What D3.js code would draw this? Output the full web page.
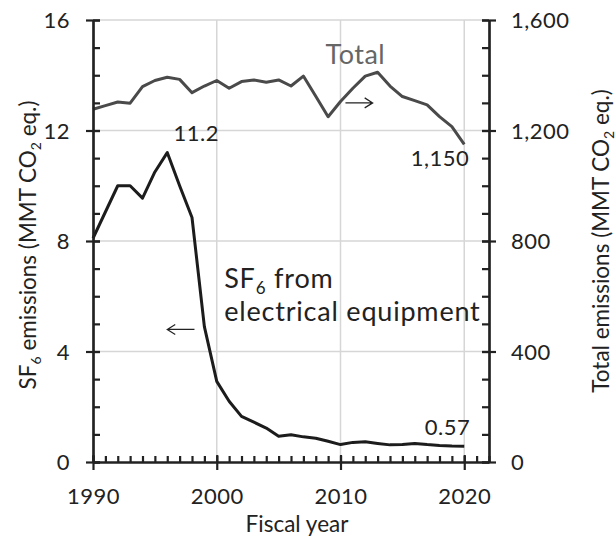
<!DOCTYPE html>
<html>
<head>
<meta charset="utf-8">
<script src="https://cdn.jsdelivr.net/npm/d3@7"></script>
<style>
  body { margin: 0; background: #fff; }
  svg text { font-family: Lato, "Open Sans", sans-serif; fill: #222; }
</style>
</head>
<body>
<script>
// datos
const anios = [1990, 1991, 1992, 1993, 1994, 1995, 1996, 1997, 1998, 1999,
  2000, 2001, 2002, 2003, 2004, 2005, 2006, 2007, 2008, 2009,
  2010, 2011, 2012, 2013, 2014, 2015, 2016, 2017, 2018, 2019, 2020];
const sf6 = [8.1, 9.05, 10.0, 10.0, 9.55, 10.5, 11.2, 10.0, 8.85, 4.9,
  2.92, 2.2, 1.65, 1.44, 1.23, 0.93, 0.99, 0.91, 0.86, 0.75,
  0.63, 0.71, 0.73, 0.67, 0.62, 0.63, 0.67, 0.63, 0.6, 0.58, 0.57];
const total = [1277, 1290, 1303, 1299, 1359, 1381, 1393, 1385, 1337, 1361,
  1381, 1353, 1377, 1383, 1375, 1383, 1361, 1397, 1324, 1250,
  1305, 1353, 1397, 1411, 1361, 1323, 1308, 1293, 1250, 1214, 1150];
const ticksX = [1990, 2000, 2010, 2020];
const ticksIzq = [0, 4, 8, 12, 16];
const ticksDer = [0, 400, 800, 1200, 1600];

let width = 616;
let height = 540;
let margin = { top: 20, bottom: 78, left: 93, right: 127 };

const escalaX = d3.scaleLinear()
  .domain([1990, 2022])
  .range([margin.left, width - margin.right]);
const escalaY = d3.scaleLinear()
  .domain([0, 16])
  .range([height - margin.bottom, margin.top]);
const escalaY2 = d3.scaleLinear()
  .domain([0, 1600])
  .range([height - margin.bottom, margin.top]);

let svg = d3.select("body")
  .append("svg")
  .attr("width", width)
  .attr("height", height);

// rejilla
svg.append("g")
  .selectAll("line.v")
  .data(ticksX.slice(1))
  .enter()
  .append("line")
  .attr("x1", d => escalaX(d))
  .attr("x2", d => escalaX(d))
  .attr("y1", escalaY(0))
  .attr("y2", escalaY(16))
  .attr("stroke", "#d6d6d6")
  .attr("stroke-width", 1.5);
svg.append("g")
  .selectAll("line.h")
  .data(ticksIzq.slice(1))
  .enter()
  .append("line")
  .attr("x1", escalaX(1990))
  .attr("x2", escalaX(2022))
  .attr("y1", d => escalaY(d))
  .attr("y2", d => escalaY(d))
  .attr("stroke", "#d6d6d6")
  .attr("stroke-width", 1.5);

// lineas
const lineaTotal = d3.line()
  .x((d, i) => escalaX(anios[i]))
  .y(d => escalaY2(d));
const lineaSF6 = d3.line()
  .x((d, i) => escalaX(anios[i]))
  .y(d => escalaY(d));

svg.append("path")
  .datum(total)
  .attr("d", lineaTotal)
  .attr("fill", "none")
  .attr("stroke", "#4a4a4a")
  .attr("stroke-width", 3)
  .attr("stroke-linejoin", "round");
svg.append("path")
  .datum(sf6)
  .attr("d", lineaSF6)
  .attr("fill", "none")
  .attr("stroke", "#1c1c1c")
  .attr("stroke-width", 3)
  .attr("stroke-linejoin", "round");

// ejes
function estiloEje(g) {
  g.select(".domain").attr("stroke", "#222").attr("stroke-width", 2.2);
  g.selectAll(".tick line").attr("stroke", "#222").attr("stroke-width", 2.2);
  g.selectAll("text").attr("font-size", 22).attr("letter-spacing", 0.5).attr("fill", "#222");
}

// eje x menor
svg.append("g")
  .attr("transform", "translate(0," + escalaY(0) + ")")
  .call(d3.axisTop(escalaX).tickValues(d3.range(1990, 2023)).tickSize(6).tickSizeOuter(0).tickFormat(""))
  .call(estiloEje);
// eje x mayor
let ejeX = svg.append("g")
  .attr("transform", "translate(0," + escalaY(0) + ")")
  .call(d3.axisBottom(escalaX).tickValues(ticksX).tickSize(8).tickSizeOuter(0).tickFormat(d3.format("d")))
  .call(estiloEje);
ejeX.selectAll(".tick line").attr("y1", -7);
ejeX.selectAll("text").attr("y", 42).attr("dy", 0);

// eje izquierdo
svg.append("g")
  .attr("transform", "translate(" + escalaX(1990) + ",0)")
  .call(d3.axisRight(escalaY).tickValues(d3.range(0, 17)).tickSize(7).tickSizeOuter(0).tickFormat(""))
  .call(estiloEje);
let ejeIzq = svg.append("g")
  .attr("transform", "translate(" + escalaX(1990) + ",0)")
  .call(d3.axisLeft(escalaY).tickValues(ticksIzq).tickSize(7).tickSizeOuter(0))
  .call(estiloEje);
ejeIzq.selectAll(".tick line").attr("x1", 7);
ejeIzq.selectAll("text").attr("x", -23).attr("dy", "0.36em");

// eje derecho
svg.append("g")
  .attr("transform", "translate(" + escalaX(2022) + ",0)")
  .call(d3.axisLeft(escalaY2).tickValues(d3.range(0, 1700, 100)).tickSize(7).tickSizeOuter(0).tickFormat(""))
  .call(estiloEje);
let ejeDer = svg.append("g")
  .attr("transform", "translate(" + escalaX(2022) + ",0)")
  .call(d3.axisRight(escalaY2).tickValues(ticksDer).tickSize(7).tickSizeOuter(0).tickFormat(d3.format(",")))
  .call(estiloEje);
ejeDer.selectAll(".tick line").attr("x1", -7);
ejeDer.selectAll("text").attr("x", 22).attr("dy", "0.36em");

// titulos de ejes
svg.append("text")
  .attr("x", 297)
  .attr("y", 532)
  .attr("text-anchor", "middle")
  .attr("font-size", 22.5)
  .text("Fiscal year");

function tituloSub(t, partes) {
  partes.forEach(p => {
    t.append("tspan")
      .attr("font-size", p.sub ? 14 : null)
      .attr("dy", p.dy)
      .text(p.s);
  });
}
let tIzq = svg.append("text")
  .attr("transform", "translate(36,245) rotate(-90)")
  .attr("text-anchor", "middle")
  .attr("font-size", 22.5);
tituloSub(tIzq, [
  { s: "SF", dy: 0 }, { s: "6", sub: true, dy: 5 },
  { s: " emissions (MMT CO", dy: -5 }, { s: "2", sub: true, dy: 5 },
  { s: " eq.)", dy: -5 }
]);
let tDer = svg.append("text")
  .attr("transform", "translate(609,241) rotate(-90)")
  .attr("text-anchor", "middle")
  .attr("font-size", 22.5);
tituloSub(tDer, [
  { s: "Total emissions (MMT CO", dy: 0 }, { s: "2", sub: true, dy: 5 },
  { s: " eq.)", dy: -5 }
]);

// anotaciones
svg.append("text")
  .attr("x", escalaX(1996) + 29)
  .attr("y", escalaY(11.2) - 12)
  .attr("text-anchor", "middle")
  .attr("font-size", 22)
  .attr("letter-spacing", 0.5)
  .text("11.2");
svg.append("text")
  .attr("x", escalaX(2020) + 5)
  .attr("y", escalaY2(1150) + 22)
  .attr("text-anchor", "end")
  .attr("font-size", 22)
  .attr("letter-spacing", 0.5)
  .text("1,150");
svg.append("text")
  .attr("x", escalaX(2020) + 6)
  .attr("y", escalaY(0.57) - 11)
  .attr("text-anchor", "end")
  .attr("font-size", 22)
  .attr("letter-spacing", 0.5)
  .text("0.57");
svg.append("text")
  .attr("x", escalaX(2011.2))
  .attr("y", escalaY2(1440))
  .attr("text-anchor", "middle")
  .attr("font-size", 27)
  .attr("letter-spacing", 0.5)
  .style("fill", "#666")
  .text("Total");

// etiqueta SF6 en dos lineas
let tSF6 = svg.append("text")
  .attr("x", escalaX(2000.6))
  .attr("y", escalaY(6.3))
  .attr("font-size", 27)
  .attr("letter-spacing", 0.8);
tSF6.append("tspan").text("SF");
tSF6.append("tspan").attr("font-size", 17).attr("dy", 6).text("6");
tSF6.append("tspan").attr("dy", -6).text(" from");
tSF6.append("tspan")
  .attr("x", escalaX(2000.6))
  .attr("dy", 33)
  .text("electrical equipment");

// flechas
function flecha(x1, x2, y) {
  const dir = x2 > x1 ? 1 : -1;
  svg.append("path")
    .attr("d", "M" + x1 + "," + y + "H" + x2
      + "M" + (x2 - dir * 8) + "," + (y - 5) + "L" + x2 + "," + y + "L" + (x2 - dir * 8) + "," + (y + 5))
    .attr("fill", "none")
    .attr("stroke", "#222")
    .attr("stroke-width", 1.2);
}
flecha(escalaX(2010.4), escalaX(2012.6), escalaY2(1300));
flecha(escalaX(1998.2), escalaX(1996), escalaY(4.8));
</script>
</body>
</html>
